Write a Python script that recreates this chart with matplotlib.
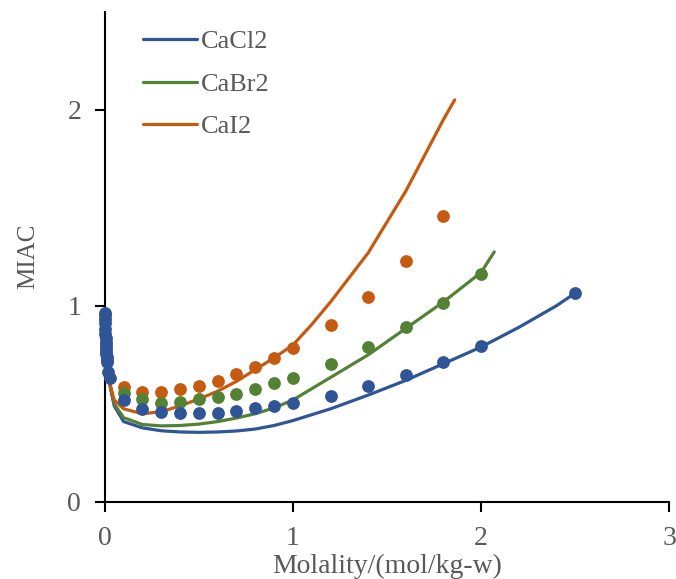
import matplotlib
matplotlib.use("Agg")
import matplotlib.pyplot as plt

# Colours for the three salts
C_CL = "#2F5597"
C_BR = "#548235"
C_I = "#C55A11"

# Model curves (molality in mol/kg-w, mean ionic activity coefficient)
cacl2_line_m = [0.015, 0.05, 0.1, 0.2, 0.3, 0.4, 0.5, 0.6, 0.7, 0.8, 0.9, 1.0,
                1.2, 1.4, 1.6, 1.8, 2.0, 2.2, 2.4, 2.5]
cacl2_line_g = [0.65, 0.49, 0.41, 0.378, 0.363, 0.357, 0.355, 0.357, 0.362, 0.372,
                0.39, 0.415, 0.475, 0.545, 0.62, 0.705, 0.79, 0.89, 1.0, 1.065]

cabr2_line_m = [0.015, 0.05, 0.1, 0.2, 0.3, 0.4, 0.5, 0.6, 0.7, 0.8, 0.9, 1.0,
                1.2, 1.4, 1.6, 1.8, 2.0, 2.07]
cabr2_line_g = [0.65, 0.50, 0.43, 0.395, 0.388, 0.39, 0.397, 0.41, 0.428, 0.45,
                0.48, 0.52, 0.635, 0.75, 0.885, 1.02, 1.17, 1.275]

cai2_line_m = [0.015, 0.05, 0.1, 0.2, 0.3, 0.4, 0.5, 0.6, 0.7, 0.8, 0.9, 1.0,
               1.1, 1.2, 1.4, 1.6, 1.8, 1.86]
cai2_line_g = [0.65, 0.52, 0.475, 0.45, 0.46, 0.49, 0.525, 0.565, 0.615, 0.675,
               0.735, 0.80, 0.905, 1.02, 1.27, 1.585, 1.95, 2.05]

# Measured values
cacl2_m = [0.0001, 0.0002, 0.0005, 0.001, 0.002, 0.003, 0.004, 0.005, 0.006,
           0.007, 0.008, 0.009, 0.01, 0.011, 0.012, 0.015, 0.028,
           0.1, 0.2, 0.3, 0.4, 0.5, 0.6, 0.7, 0.8, 0.9, 1.0,
           1.2, 1.4, 1.6, 1.8, 2.0, 2.5]
cacl2_g = [0.965, 0.955, 0.935, 0.91, 0.88, 0.855, 0.835, 0.815, 0.80,
           0.785, 0.77, 0.755, 0.74, 0.725, 0.715, 0.665, 0.63,
           0.522, 0.473, 0.458, 0.454, 0.454, 0.456, 0.466, 0.478, 0.49, 0.503,
           0.54, 0.59, 0.648, 0.716, 0.796, 1.067]

cabr2_m = [0.1, 0.2, 0.3, 0.4, 0.5, 0.6, 0.7, 0.8, 0.9, 1.0, 1.2, 1.4, 1.6, 1.8, 2.0]
cabr2_g = [0.558, 0.524, 0.507, 0.51, 0.524, 0.537, 0.551, 0.578, 0.605, 0.631,
           0.704, 0.79, 0.891, 1.014, 1.163]

cai2_m = [0.1, 0.2, 0.3, 0.4, 0.5, 0.6, 0.7, 0.8, 0.9, 1.0, 1.2, 1.4, 1.6, 1.8]
cai2_g = [0.588, 0.563, 0.561, 0.575, 0.592, 0.619, 0.653, 0.69, 0.736, 0.784,
          0.903, 1.047, 1.226, 1.456]

TEXT_GRAY = "#595959"
plt.rcParams["font.family"] = ["Liberation Serif", "DejaVu Serif"]

fig = plt.figure(figsize=(6.76, 5.79), dpi=100)
ax = fig.add_axes([0.155, 0.133, 0.835, 0.847])

lw = 2.3
ax.plot(cacl2_line_m, cacl2_line_g, color=C_CL, lw=lw, label="CaCl2", zorder=2,
        solid_capstyle="round")
ax.plot(cabr2_line_m, cabr2_line_g, color=C_BR, lw=lw, label="CaBr2", zorder=2,
        solid_capstyle="round")
ax.plot(cai2_line_m, cai2_line_g, color=C_I, lw=lw, label="CaI2", zorder=2,
        solid_capstyle="round")

ms = 85
ax.scatter(cai2_m, cai2_g, s=ms, color=C_I, zorder=3, linewidths=0, clip_on=False)
ax.scatter(cabr2_m, cabr2_g, s=ms, color=C_BR, zorder=3, linewidths=0, clip_on=False)
ax.scatter(cacl2_m, cacl2_g, s=ms, color=C_CL, zorder=4, linewidths=0, clip_on=False)

ax.set_xlim(0, 3)
ax.set_ylim(0, 2.5)
ax.set_xticks([0, 1, 2, 3])
ax.set_yticks([0, 1, 2])

for side in ("top", "right"):
    ax.spines[side].set_visible(False)
for side in ("left", "bottom"):
    ax.spines[side].set_linewidth(1.5)
    ax.spines[side].set_color("black")

ax.tick_params(axis="both", direction="out", length=7, width=1.5,
               colors="black", labelcolor=TEXT_GRAY, labelsize=20)
ax.tick_params(axis="x", pad=10)
ax.tick_params(axis="y", pad=10)

ax.set_xlabel("Molality/(mol/kg-w)", fontsize=20, color=TEXT_GRAY, labelpad=2)
ax.set_ylabel("MIAC", fontsize=18, color=TEXT_GRAY, labelpad=20)

leg = ax.legend(loc="upper left", bbox_to_anchor=(0.04, 0.995), frameon=False,
                fontsize=19, handlelength=2.05, handletextpad=0.15,
                labelspacing=0.72, borderaxespad=0.2)
for t in leg.get_texts():
    t.set_color(TEXT_GRAY)

fig.savefig("out.png", dpi=100, facecolor="white")
